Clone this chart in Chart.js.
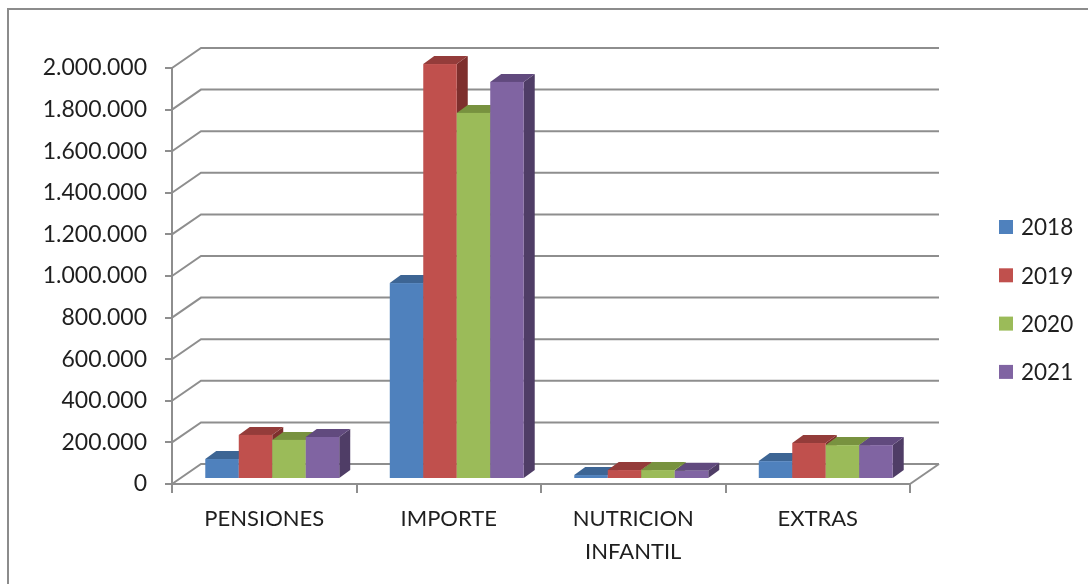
<!DOCTYPE html>
<html>
<head>
<meta charset="utf-8">
<script src="https://cdn.jsdelivr.net/npm/chart.js@4/dist/chart.umd.min.js"></script>
<style>
  html, body { margin: 0; padding: 0; background: #fff; }
  #wrap { width: 1088px; height: 584px; }
</style>
</head>
<body>
<div id="wrap"><canvas id="myChart" width="1088" height="584"></canvas></div>
<script>
// chart data
var categories = ['PENSIONES', 'IMPORTE', ['NUTRICION', 'INFANTIL'], 'EXTRAS'];
var seriesNames = ['2018', '2019', '2020', '2021'];
var values2018 = [96000, 942000, 19000, 86000];
var values2019 = [212000, 1995000, 43000, 173000];
var values2020 = [188000, 1760000, 43000, 163000];
var values2021 = [202000, 1909000, 40000, 163000];
var yTicks = [0, 200000, 400000, 600000, 800000, 1000000, 1200000, 1400000, 1600000, 1800000, 2000000];

// colours per series: front, top, side
var frontColors = ['#4F81BD', '#C0504D', '#9BBB59', '#8064A2'];
var topColors = ['#3D6594', '#943C3A', '#78923F', '#614A7E'];
var sideColors = ['#355884', '#7E2F2D', '#67802F', '#4F3D66'];

var gridColor = '#8e8e8e';
var textColor = '#1f1f1f';
var fontFamily = 'Lato, "Open Sans", sans-serif';

// 3D offsets
var wallDx = 29, wallDy = -20;   // back wall
var barDx = 11, barDy = -8;      // bar depth
var barShiftX = 8, barShiftY = -5;

function fmt(v) {
    return String(v).replace(/\B(?=(\d{3})+(?!\d))/g, '.');
}

// draws the walls, the 3D bars and the legend
var fake3d = {
    id: 'fake3d',
    beforeDraw: function(chart) {
        var c = chart.ctx;
        c.save();
        c.strokeStyle = '#8c8c8c';
        c.lineWidth = 2;
        c.strokeRect(8, 9, 1200, 700);
        c.restore();
    },
    beforeDatasetsDraw: function(chart) {
        var c = chart.ctx;
        var a = chart.chartArea;
        var y = chart.scales.y;
        c.save();
        c.strokeStyle = gridColor;
        c.lineWidth = 2;
        yTicks.forEach(function(t) {
            var py = y.getPixelForValue(t);
            c.beginPath();
            c.moveTo(a.left, py);
            c.lineTo(a.left + wallDx, py + wallDy);
            c.lineTo(a.right + wallDx, py + wallDy);
            c.stroke();
        });
        // right edge of the floor
        c.beginPath();
        c.moveTo(a.right, a.bottom);
        c.lineTo(a.right + wallDx, a.bottom + wallDy);
        c.stroke();

        // bars, category by category, series left to right
        var metas = chart.data.datasets.map(function(d, i) { return chart.getDatasetMeta(i); });
        for (var j = 0; j < categories.length; j++) {
            for (var i = 0; i < metas.length; i++) {
                var bar = metas[i].data[j];
                var w = bar.width;
                var x0 = bar.x - w / 2 + barShiftX;
                var x1 = bar.x + w / 2 + barShiftX;
                var top = bar.y + barShiftY;
                var base = bar.base + barShiftY;
                // side
                c.fillStyle = sideColors[i];
                c.beginPath();
                c.moveTo(x1, base);
                c.lineTo(x1, top);
                c.lineTo(x1 + barDx, top + barDy);
                c.lineTo(x1 + barDx, base + barDy);
                c.closePath();
                c.fill();
                // top
                c.fillStyle = topColors[i];
                c.beginPath();
                c.moveTo(x0, top);
                c.lineTo(x0 + barDx, top + barDy);
                c.lineTo(x1 + barDx, top + barDy);
                c.lineTo(x1, top);
                c.closePath();
                c.fill();
                // front
                c.fillStyle = frontColors[i];
                c.fillRect(x0, top, w, base - top);
            }
        }

        // legend
        c.font = '22.5px ' + fontFamily;
        c.textBaseline = 'middle';
        c.textAlign = 'left';
        seriesNames.forEach(function(name, i) {
            var cy = 227 + i * 48.3;
            c.fillStyle = frontColors[i];
            c.fillRect(999, cy - 7, 14, 14);
            c.fillStyle = textColor;
            c.fillText(name, 1021, cy + 1);
        });
        c.restore();
        return false;
    }
};

var ctx = document.getElementById('myChart').getContext('2d');

var myChart = new Chart(ctx, {
    type: 'bar',
    data: {
        labels: categories,
        datasets: [
            { label: seriesNames[0], data: values2018, backgroundColor: frontColors[0] },
            { label: seriesNames[1], data: values2019, backgroundColor: frontColors[1] },
            { label: seriesNames[2], data: values2020, backgroundColor: frontColors[2] },
            { label: seriesNames[3], data: values2021, backgroundColor: frontColors[3] }
        ]
    },
    options: {
        responsive: false,
        animation: false,
        categoryPercentage: 0.726,
        barPercentage: 1,
        layout: {
            padding: { top: 68, right: 178, bottom: 0, left: 0 }
        },
        plugins: {
            legend: { display: false },
            tooltip: { enabled: false }
        },
        scales: {
            x: {
                afterFit: function(scale) { scale.height = 100; },
                grid: { drawOnChartArea: false, offset: true, tickLength: 9, color: gridColor, lineWidth: 2 },
                border: { display: true, color: gridColor, width: 2 },
                ticks: {
                    color: textColor,
                    padding: 9,
                    font: { family: fontFamily, size: 22, lineHeight: 1.5 }
                }
            },
            y: {
                min: 0,
                max: 2000000,
                afterFit: function(scale) { scale.width = 172; },
                afterBuildTicks: function(scale) {
                    scale.ticks = yTicks.map(function(v) { return { value: v }; });
                },
                grid: { drawOnChartArea: false, tickLength: 7, color: gridColor, lineWidth: 2 },
                border: { display: true, color: gridColor, width: 2 },
                ticks: {
                    color: textColor,
                    padding: 18,
                    font: { family: fontFamily, size: 23 },
                    callback: function(v) { return fmt(v); }
                }
            }
        }
    },
    plugins: [fake3d]
});
</script>
</body>
</html>
